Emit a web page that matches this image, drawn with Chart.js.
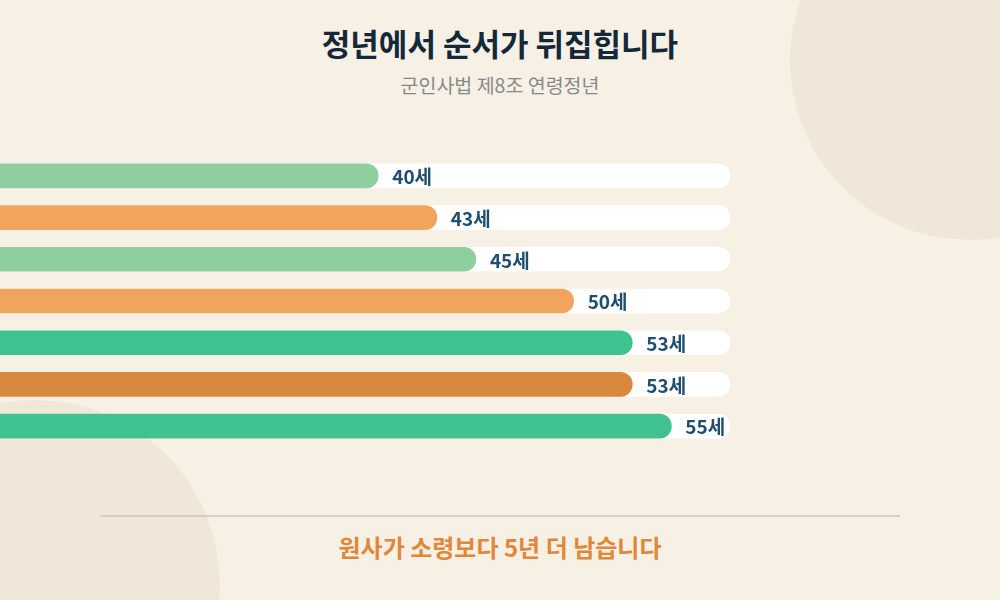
<!DOCTYPE html>
<html><head><meta charset="utf-8">
<script src="https://cdn.jsdelivr.net/npm/chart.js@4"></script>
<style>
body{margin:0;width:1000px;height:600px;background:#f7f0e4;overflow:hidden;position:relative;font-family:"Noto Sans CJK KR","Noto Sans",sans-serif}
.c{position:absolute;border-radius:50%;background:#f0e7d8}
.t{position:absolute;left:0;width:1000px;text-align:center}
</style></head><body>
<div class="c" style="left:790px;top:-120px;width:360px;height:360px"></div>
<div class="c" style="left:-150px;top:400px;width:370px;height:370px"></div>
<div class="t" style="top:20px;font-size:31px;font-weight:700;color:#14283a">정년에서 순서가 뒤집힙니다</div>
<div class="t" style="top:70px;font-size:19.5px;color:#888">군인사법 제8조 연령정년</div>
<div style="position:absolute;left:100px;top:515px;width:800px;height:2px;background:#d8cfc0"></div>
<div class="t" style="top:529px;font-size:24px;font-weight:700;color:#e0873a">원사가 소령보다 5년 더 남습니다</div>
<canvas id="ch" width="730" height="364" style="position:absolute;left:0;top:119px;width:730px;height:364px"></canvas>
<script>
const categories=["하사","소위·중위·대위","중사","소령","상사","중령","원사"];
const ages=[40,43,45,50,53,53,55];
const colors=["#8fcf9f","#f0a45e","#8fcf9f","#f0a45e","#3fc190","#d9883f","#3fc190"];
const axisMin=36, axisMax=58;
const labelPlugin={id:'vl',afterDatasetsDraw(c){const ctx=c.ctx;const m=c.getDatasetMeta(1);
ctx.save();ctx.font='700 19px "Noto Sans CJK KR"';ctx.fillStyle='#1f4e6e';ctx.textBaseline='middle';
m.data.forEach((b,i)=>ctx.fillText(ages[i]+'세',b.x+14,b.y+1));ctx.restore();}};
new Chart(document.getElementById('ch'),{type:'bar',
data:{labels:categories,datasets:[
{data:categories.map(()=>axisMax),backgroundColor:'#ffffff',borderRadius:12,borderSkipped:false,barThickness:24,grouped:false,order:2,clip:false},
{data:ages,backgroundColor:colors,borderRadius:12,borderSkipped:false,barThickness:24,grouped:false,order:1,clip:false}]},
options:{indexAxis:'y',responsive:false,animation:false,devicePixelRatio:1,
layout:{padding:0},
plugins:{legend:{display:false},tooltip:{enabled:false}},
scales:{x:{min:axisMin,max:axisMax,display:false},
y:{grid:{display:false},border:{display:false},afterFit(s){s.width=300;},
ticks:{padding:24,color:'#14283a',font:{family:'"Noto Sans CJK KR"',size:20,weight:'700'}}}}},
plugins:[labelPlugin]});
</script></body></html>
